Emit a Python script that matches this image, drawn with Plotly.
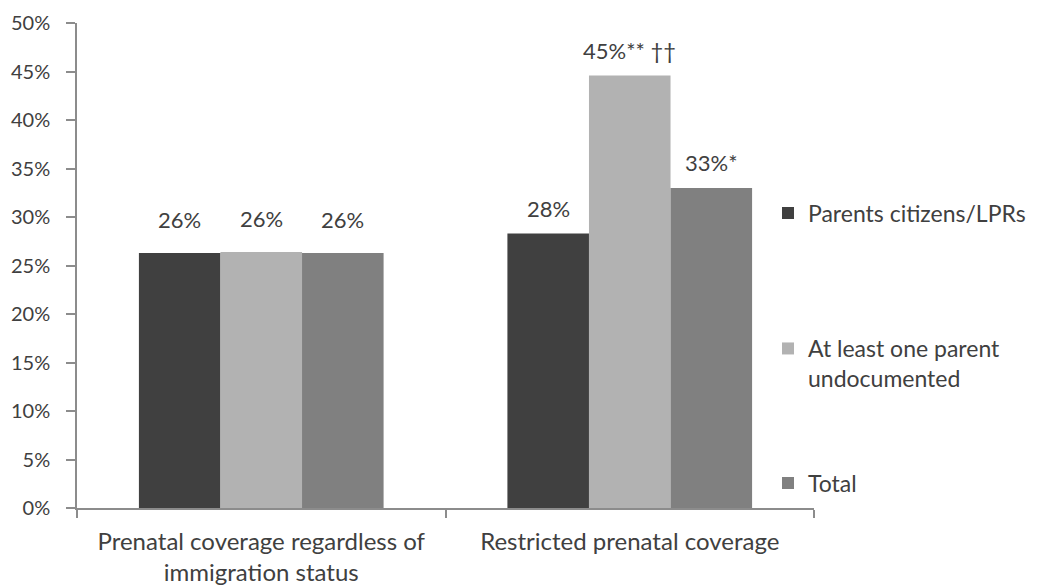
import plotly.graph_objects as go

# Chart data
categories = ["Prenatal coverage regardless of<br>immigration status",
              "Restricted prenatal coverage"]
series_names = ["Parents citizens/LPRs",
                "At least one parent<br>undocumented",
                "Total"]
citizens = [26.3, 28.3]
undocumented = [26.4, 44.6]
total = [26.3, 33.0]
marks = [["", ""], ["", "** ††"], ["", "*"]]  # significance markers after each value label
y_ticks = [0, 5, 10, 15, 20, 25, 30, 35, 40, 45, 50]

colors = ["#404040", "#b2b2b2", "#808080"]
FONT = "Lato"
TEXT = "#404040"
AXIS = "#8c8c8c"

values = [citizens, undocumented, total]

fig = go.Figure()
legend_ids = ["legend", "legend2", "legend3"]
for i, (name, vals) in enumerate(zip(series_names, values)):
    fig.add_trace(go.Bar(
        x=categories, y=vals, name=name,
        marker=dict(color=colors[i], line=dict(width=0)),
        legend=legend_ids[i],
        hoverinfo="skip",
    ))

# Plot area geometry (pixels) used to place value labels over each bar
W, H = 1038, 587
plot_left, plot_right, plot_top, plot_bottom = 77, 814, 23, 508
bargap = 0.336
cat_px = (plot_right - plot_left) / len(categories)
bar_px = cat_px * (1 - bargap) / len(series_names)
label_lift = [33, 25]

annotations = []
for i, vals in enumerate(values):
    for j, v in enumerate(vals):
        annotations.append(dict(
            x=categories[j], y=v, xref="x", yref="y",
            text=f"{round(v)}%{marks[i][j]}",
            showarrow=False,
            xshift=(i - 1) * bar_px, yshift=label_lift[j],
            yanchor="middle", xanchor="center",
            font=dict(family=FONT, size=22, color=TEXT),
        ))

plot_h = plot_bottom - plot_top
legend_common = dict(
    font=dict(family=FONT, size=23, color=TEXT),
    bgcolor="rgba(0,0,0,0)", borderwidth=0,
    xref="container", xanchor="left", x=768 / W,
    itemclick=False, itemdoubleclick=False,
)

fig.update_layout(
    width=W, height=H,
    margin=dict(l=plot_left, r=W - plot_right, t=plot_top, b=H - plot_bottom,
                autoexpand=False),
    paper_bgcolor="white", plot_bgcolor="white",
    barmode="group", bargap=bargap, bargroupgap=0,
    font=dict(family=FONT, size=20, color=TEXT),
    showlegend=True,
    legend=dict(**legend_common, y=(plot_bottom - 213) / plot_h, yanchor="middle"),
    legend2=dict(**legend_common, y=(plot_bottom - 327) / plot_h, yanchor="top", valign="top"),
    legend3=dict(**legend_common, y=(plot_bottom - 483) / plot_h, yanchor="middle"),
    annotations=annotations,
    xaxis=dict(
        showline=True, linecolor=AXIS, linewidth=1.5,
        ticks="outside", tickson="boundaries", ticklen=8,
        tickcolor=AXIS, tickwidth=1.5,
        ticklabelstandoff=11,
        tickfont=dict(family=FONT, size=24, color=TEXT),
        showgrid=False, zeroline=False,
    ),
    yaxis=dict(
        range=[0, 50], tickvals=y_ticks,
        ticktext=[f"{t}%" for t in y_ticks],
        showline=True, linecolor=AXIS, linewidth=1.5,
        ticks="outside", ticklen=9, tickcolor=AXIS, tickwidth=1.5,
        ticklabelstandoff=12,
        tickfont=dict(family=FONT, size=20, color=TEXT),
        showgrid=False, zeroline=False,
    ),
)

fig.write_html("out.html")
